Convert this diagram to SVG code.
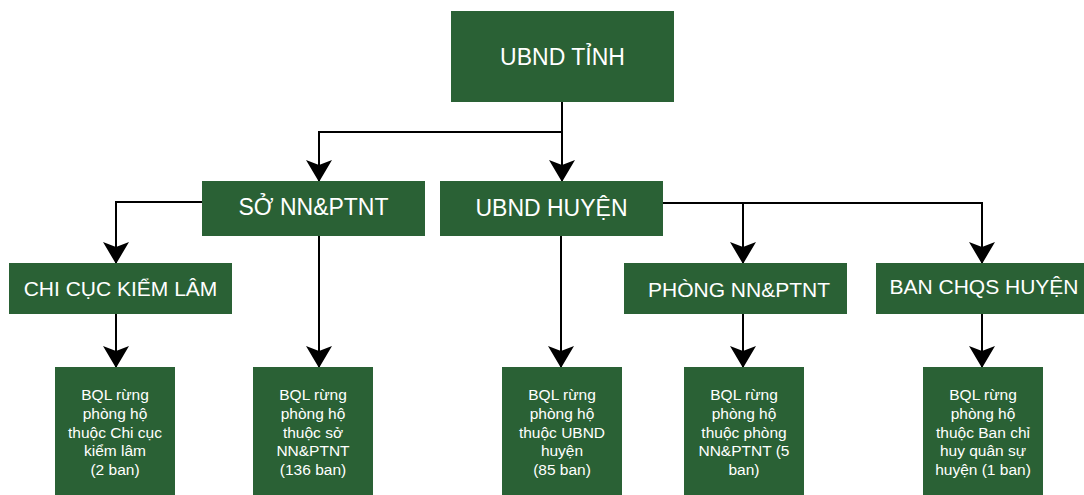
<svg xmlns="http://www.w3.org/2000/svg" width="1084" height="495" viewBox="0 0 1084 495">
<defs>
<style>
.box{fill:#2a6135;}
.t{fill:#ffffff;font-family:"Liberation Sans",Arial,sans-serif;text-anchor:middle;}
.l1{font-size:23px;}
.l3{font-size:21px;}
.s{font-size:15.5px;}
.c{fill:none;stroke:#000;stroke-width:2;}
</style>
<marker id="ah" viewBox="0 0 22 26" refX="21" refY="13" markerWidth="22" markerHeight="26" markerUnits="userSpaceOnUse" orient="auto">
<path d="M0,0 L5,13 L0,26 L22,13 Z" fill="#000"/>
</marker>
</defs>
<g id="connectors">
<path class="c" d="M562,102 V181" marker-end="url(#ah)"/>
<path class="c" d="M562,132 H319 V181" marker-end="url(#ah)"/>
<path class="c" d="M202,202 H116 V263" marker-end="url(#ah)"/>
<path class="c" d="M319,236 V367" marker-end="url(#ah)"/>
<path class="c" d="M561,236 V367" marker-end="url(#ah)"/>
<path class="c" d="M663,203 H982 V263" marker-end="url(#ah)"/>
<path class="c" d="M743,203 V263" marker-end="url(#ah)"/>
<path class="c" d="M116,314 V367" marker-end="url(#ah)"/>
<path class="c" d="M743,314 V367" marker-end="url(#ah)"/>
<path class="c" d="M982,314 V367" marker-end="url(#ah)"/>
</g>
<g id="ubnd-tinh"><rect class="box" x="451" y="11" width="223" height="91"/><text class="t l1" x="562.5" y="65">UBND TỈNH</text></g>
<g id="so-nnptnt"><rect class="box" x="202" y="181" width="223" height="55"/><text class="t l1" x="313.5" y="215">SỞ NN&amp;PTNT</text></g>
<g id="ubnd-huyen"><rect class="box" x="440" y="181" width="223" height="55"/><text class="t l1" x="551.5" y="216">UBND HUYỆN</text></g>
<g id="chi-cuc"><rect class="box" x="9" y="263" width="223" height="51"/><text class="t l3" x="120.5" y="296">CHI CỤC KIỂM LÂM</text></g>
<g id="phong-nnptnt"><rect class="box" x="624" y="263" width="223" height="51"/><text class="t l3" x="739" y="297">PHÒNG NN&amp;PTNT</text></g>
<g id="ban-chqs"><rect class="box" x="876" y="263" width="212" height="51"/><text class="t l3" x="984" y="294">BAN CHQS HUYỆN</text></g>
<g id="bql-1"><rect class="box" x="55" y="367" width="120" height="130"/>
<text class="t s" x="115" y="400">BQL rừng</text><text class="t s" x="115" y="418.75">phòng hộ</text><text class="t s" x="115" y="437.5">thuộc Chi cục</text><text class="t s" x="115" y="456.25">kiểm lâm</text><text class="t s" x="115" y="475">(2 ban)</text></g>
<g id="bql-2"><rect class="box" x="253" y="367" width="120" height="130"/>
<text class="t s" x="313" y="400">BQL rừng</text><text class="t s" x="313" y="418.75">phòng hộ</text><text class="t s" x="313" y="437.5">thuộc sở</text><text class="t s" x="313" y="456.25">NN&amp;PTNT</text><text class="t s" x="313" y="475">(136 ban)</text></g>
<g id="bql-3"><rect class="box" x="502" y="367" width="120" height="130"/>
<text class="t s" x="562" y="400">BQL rừng</text><text class="t s" x="562" y="418.75">phòng hộ</text><text class="t s" x="562" y="437.5">thuộc UBND</text><text class="t s" x="562" y="456.25">huyện</text><text class="t s" x="562" y="475">(85 ban)</text></g>
<g id="bql-4"><rect class="box" x="684" y="367" width="120" height="130"/>
<text class="t s" x="744" y="400">BQL rừng</text><text class="t s" x="744" y="418.75">phòng hộ</text><text class="t s" x="744" y="437.5">thuộc phòng</text><text class="t s" x="744" y="456.25">NN&amp;PTNT (5</text><text class="t s" x="744" y="475">ban)</text></g>
<g id="bql-5"><rect class="box" x="923" y="367" width="120" height="130"/>
<text class="t s" x="983" y="400">BQL rừng</text><text class="t s" x="983" y="418.75">phòng hộ</text><text class="t s" x="983" y="437.5">thuộc Ban chỉ</text><text class="t s" x="983" y="456.25">huy quân sự</text><text class="t s" x="983" y="475">huyện (1 ban)</text></g>
</svg>
